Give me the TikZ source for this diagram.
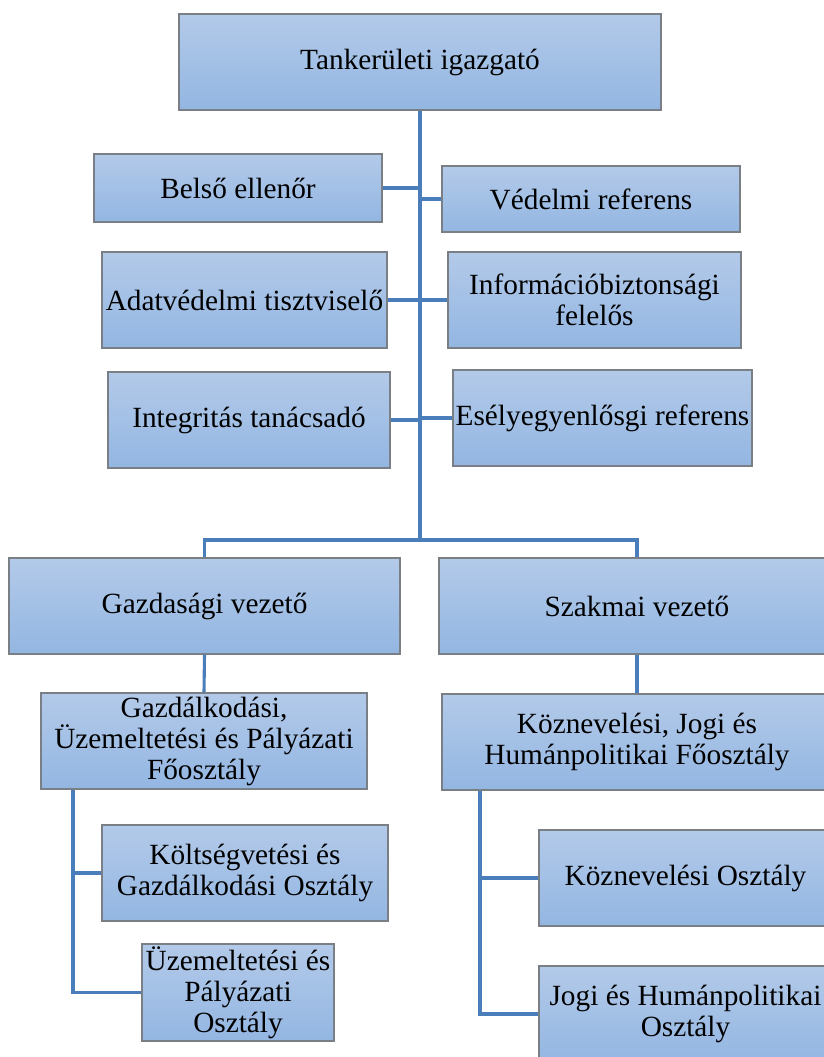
\documentclass[tikz,border=0pt]{standalone}
\usepackage{fontspec}
\setmainfont{Liberation Serif}
\definecolor{boxtop}{HTML}{B3CAE9}
\definecolor{boxbot}{HTML}{93B6E2}
\definecolor{boxline}{HTML}{7A7F86}
\definecolor{conn}{HTML}{4A7EBB}
\tikzset{
  orgbox/.style={draw=boxline, line width=1.3pt, top color=boxtop, bottom color=boxbot,
    inner sep=0pt, align=center, font=\fontsize{29.3}{31}\selectfont},
  link/.style={draw=conn, line width=3.1pt}
}
\newcommand{\bx}[6]{% name, x1, y1, x2, y2, text
  \node[orgbox, minimum width=#4-#2, minimum height=#5-#3] (#1) at ({(#2+#4)/2},{(#3+#5)/2}) {#6};}
\begin{document}
\begin{tikzpicture}[x=1pt,y=-1pt]
\clip (0,0) rectangle (824,1057);
\fill[white] (0,0) rectangle (824,1057);
\coordinate (br) at (420,540);
\coordinate (lt) at (73,0);
\coordinate (rt) at (480,0);
\bx{top}{179}{14}{661}{110}{Tankerületi igazgató}
\bx{belso}{94}{154}{382}{222}{Belső ellenőr}
\bx{vedelmi}{442}{166}{740}{232}{Védelmi referens}
\bx{adat}{102}{252}{387}{348}{Adatvédelmi tisztviselő}
\bx{info}{448}{252}{741}{348}{Információbiztonsági\\felelős}
\bx{integ}{108}{372}{390}{468}{Integritás tanácsadó}
\bx{esely}{453}{370}{752}{466}{Esélyegyenlősgi referens}
\bx{gv}{9}{558}{400}{654}{Gazdasági vezető}
\bx{szv}{439}{558}{835}{654}{Szakmai vezető}
\bx{gf}{41}{693}{367}{789}{Gazdálkodási,\\Üzemeltetési és Pályázati\\Főosztály}
\bx{kf}{442}{694}{832}{790}{Köznevelési, Jogi és\\Humánpolitikai Főosztály}
\bx{kolt}{102}{825}{388}{921}{Költségvetési és\\Gazdálkodási Osztály}
\bx{uzem}{142}{944}{334}{1041}{Üzemeltetési és\\Pályázati\\Osztály}
\bx{koz}{539}{830}{832}{926}{Köznevelési Osztály}
\bx{jogi}{539}{966}{832}{1062}{Jogi és Humánpolitikai\\Osztály}
\path[link] (top.south) -- (br);
\path[link] (belso.east) -- (belso.east -| top.south);
\path[link] (vedelmi.west) -- (vedelmi.west -| top.south);
\path[link] (adat.east) -- (info.west);
\path[link] (integ.east) -- (integ.east -| top.south);
\path[link] (esely.west) -- (esely.west -| top.south);
\path[link] (gv.north) |- (br) -| (szv.north);
\path[link] (gv.south) -- (gf.north);
\path[link] (szv.south) -- (kf.north);
\path[link] (gf.south -| lt) |- (kolt.west);
\path[link] (gf.south -| lt) |- (uzem.west);
\path[link] (kf.south -| rt) |- (koz.west);
\path[link] (kf.south -| rt) |- (jogi.west);
\end{tikzpicture}
\end{document}
